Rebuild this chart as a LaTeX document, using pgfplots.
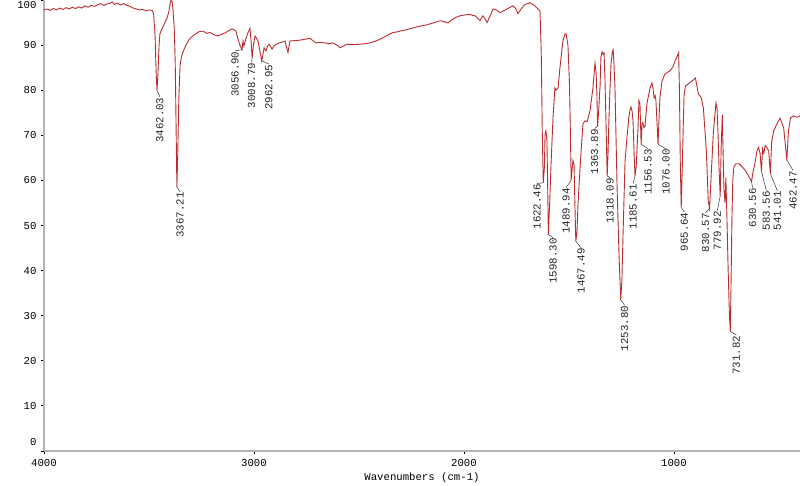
\documentclass[border=0pt]{standalone}
\usepackage{fontspec}
\setmainfont{Liberation Mono}
\usepackage{pgfplots}
\pgfplotsset{compat=1.18}

\definecolor{spec}{RGB}{188,44,46}
\definecolor{axgray}{RGB}{180,180,180}

% IR spectrum, wavenumber (cm-1) vs transmittance (%)
\pgfplotstableread{
wn T
4000 97.8
3985 98.0
3970 97.7
3955 98.1
3940 97.8
3925 98.2
3910 97.9
3895 98.3
3880 98.0
3865 98.4
3850 98.1
3835 98.5
3820 98.2
3805 98.7
3790 98.4
3775 98.8
3760 98.6
3745 98.9
3730 99.2
3715 98.8
3700 99.1
3685 99.3
3676 99.6
3665 99.0
3650 99.3
3635 98.9
3620 99.2
3605 98.8
3590 98.6
3575 98.2
3560 98.0
3545 97.8
3530 97.9
3515 97.6
3500 97.8
3486 97.7
3478 97.0
3471 92
3466 84
3462.03 80
3458 83
3452 90
3448 92.5
3440 93.5
3429 94.5
3414 96
3405 97.5
3400 99
3395 100
3390 99.6
3386 98
3380 94
3375 86
3371 72
3367.21 58.5
3363 66
3358 78
3352 85.5
3345 87.5
3338 88.5
3324 90
3305 91.5
3281 92.4
3260 93.0
3243 93.1
3225 92.6
3210 92.8
3190 92.3
3171 92.0
3150 92.5
3138 92.7
3120 93.2
3105 93.6
3095 93.4
3086 93.1
3076 91.3
3067 90.0
3056.90 89
3052 90.9
3048 89.8
3038 91.5
3029 92.7
3019 93.7
3014 91
3008.79 87
3003 90
2995 92
2988 91.5
2981 90.9
2971 88.5
2962.95 86.5
2957 88
2952 89.4
2943 88.7
2935 89.8
2929 90.2
2920 89.6
2914 89.1
2905 89.8
2895 90.2
2876 90.5
2852 90.9
2845 89.5
2838 88.4
2829 90.9
2805 91.0
2780 91.1
2757 91.3
2733 91.5
2720 91.0
2705 90.5
2685 90.6
2662 90.5
2645 90.3
2624 90.5
2605 90.0
2590 89.4
2575 89.8
2557 90.2
2530 90.1
2495 90.2
2470 90.3
2448 90.5
2420 90.9
2400 91.3
2375 91.9
2352 92.5
2338 92.8
2320 92.9
2305 93.1
2275 93.4
2243 93.8
2220 94.1
2210 94.2
2185 94.4
2162 94.7
2140 95.0
2114 95.4
2095 95.2
2076 94.9
2065 95.4
2052 95.8
2035 96.2
2019 96.5
1995 96.7
1971 96.8
1960 96.6
1948 96.5
1935 96.0
1924 95.4
1917 96.0
1910 96.5
1900 95.8
1890 95.0
1875 96.5
1862 98.0
1845 97.8
1829 97.2
1812 97.6
1795 98.0
1780 98.4
1767 98.7
1755 98.2
1743 97.0
1725 98.2
1710 99.0
1698 99.2
1686 99.4
1672 99.0
1662 98.7
1648 98.0
1638 97.6
1632 88
1627 70
1622.46 59.5
1617 63
1614 70.3
1610 71
1605 68.8
1601 57
1598.30 48
1592 55
1586 63
1576 74
1567 80.5
1562 80
1552 80.5
1543 85
1529 90.9
1519 92.5
1514 92.5
1505 90
1498 82
1495 75
1491 64
1489.94 60
1484 63
1481 64.4
1476 63.6
1472 55
1467.49 46.5
1462 48.5
1457 54.9
1448 62.2
1438 69.5
1433 72.6
1424 73.2
1414 73
1400 75.4
1386 80.5
1376 86
1371 84
1367 79
1363.89 72
1358 76
1352 81
1348 87.2
1343 88.5
1338 88
1333 88.3
1329 83
1324 73.2
1318.09 61
1314 66
1310 73.2
1305 80
1300 85.8
1294 88.5
1290 89
1286 86
1281 80.5
1271 58.4
1262 43.8
1253.80 33.5
1248 38
1243 47.3
1233 64.4
1224 69.5
1215 74
1210 75.4
1205 76.3
1200 75.5
1195 73.2
1190 66
1185.61 61
1180 63
1175 68
1171 72
1167 77.7
1162 77
1159 72
1156.53 68
1152 72.6
1148 72.8
1143 71.7
1138 72
1129 77
1114 80.5
1105 81.6
1100 80.5
1095 78.3
1090 78.8
1086 77.7
1081 73
1076.00 68
1071 74
1067 78.3
1057 82
1043 83.6
1030 84
1019 84.3
1005 85.2
995 86.5
985 87.5
978 88.3
974 80
970 64
965.64 54
961 62
957 70
952 79
945 81
932 81.4
915 82
898 82.7
884 79.2
870 78.3
860 76
846 66.6
837 55.5
830.57 53.8
822 62
812 71
800 77.2
795 76
790 70
785 62
779.92 56.5
775 68
770 74.5
766 66
762 58
757 55
753 60.6
748 52
742 40
736 30
731.82 26.5
728 38
724 52
720 60
715 63
705 63.7
690 63.7
675 63
660 62.2
645 61
636 60.2
630.56 59.8
625 61.5
615 63.7
605 66.5
598 67.3
590 66
583.56 62
578 67
572 66
566 67.7
558 67.3
549 66.5
541.01 61.5
535 68.5
525 71
510 72.5
495 73.8
487 72.8
478 71.7
470 68
462.47 64.5
455 71
445 73.9
430 74.3
415 74
400 74.3
}\spectrum

% peak label: peak x, peak y, label x, label top y, text
\newcommand{\pk}[5]{%
  \draw[black!80, line width=0.5bp] (axis cs:#1,#2) -- (axis cs:#3,#4)
    node[rotate=90, anchor=east, inner sep=0.4bp, text=black!85,
         font=\fontsize{10.8}{12}\selectfont] {#5};}

\begin{document}
\begin{tikzpicture}
\begin{axis}[
  width=756bp, height=451bp, scale only axis,
  x dir=reverse, xmin=400, xmax=4000, ymin=0, ymax=100,
  axis lines=left, axis line style={axgray, line width=1.6bp, -},
  xtick={1000,2000,3000,4000}, minor x tick num=4,
  ytick={0,10,...,100}, minor y tick num=4,
  tick align=outside, major tick length=3bp, minor tick length=1.2bp,
  tick style={black, line width=0.8bp},
  font=\fontsize{10.7}{12}\selectfont,
  /pgf/number format/assume math mode=true,
  /pgf/number format/set thousands separator={},
  xticklabel style={yshift=-1.5bp},
  yticklabel style={xshift=-1bp},
  yticklabel={\ifnum\ticknum=0 \smash{\raisebox{5.7bp}{0}}\else\ifnum\ticknum=10 \smash{\raisebox{-9bp}{100}}\else\pgfmathprintnumber{\tick}\fi\fi},
  xlabel={Wavenumbers (cm-1)},
  xlabel style={at={(axis description cs:0.5,0)}, anchor=center, yshift=-27bp},
  clip=false,
]
\addplot[spec, line width=0.9bp] table[x=wn, y=T] {\spectrum};

\pk{3462.03}{80}{3448}{78.5}{3462.03}
\pk{3367.21}{58.5}{3352}{57.5}{3367.21}
\pk{3056.90}{89}{3090}{88.7}{3056.90}
\pk{3008.79}{87}{3012}{86.2}{3008.79}
\pk{2962.95}{86.5}{2929}{85.8}{2962.95}
\pk{1622.46}{59.5}{1652}{59.3}{1622.46}
\pk{1598.30}{48}{1576}{47.3}{1598.30}
\pk{1489.94}{60}{1514}{58.4}{1489.94}
\pk{1467.49}{46.5}{1443}{45.1}{1467.49}
\pk{1363.89}{72}{1378}{71.5}{1363.89}
\pk{1318.09}{61}{1304}{60.6}{1318.09}
\pk{1253.80}{33.5}{1235}{32.3}{1253.80}
\pk{1185.61}{61}{1195}{59.3}{1185.61}
\pk{1156.53}{68}{1123}{67}{1156.53}
\pk{1076.00}{68}{1038}{67}{1076.00}
\pk{965.64}{54}{951}{53}{965.64}
\pk{830.57}{53.8}{849.6}{52.8}{830.57}
\pk{779.92}{56.5}{794}{53.3}{779.92}
\pk{731.82}{26.5}{703}{25.7}{731.82}
\pk{630.56}{59.8}{626}{58.4}{630.56}
\pk{583.56}{62}{560}{57.7}{583.56}
\pk{541.01}{61.5}{508}{57.7}{541.01}
\pk{462.47}{64.5}{433}{62.2}{462.47}

\coordinate (bl) at (rel axis cs:0,0);
\coordinate (tr) at (rel axis cs:1,1);
\end{axis}
\pgfresetboundingbox
\useasboundingbox ([xshift=-44bp, yshift=-35bp]bl) rectangle (tr);
\end{tikzpicture}
\end{document}
